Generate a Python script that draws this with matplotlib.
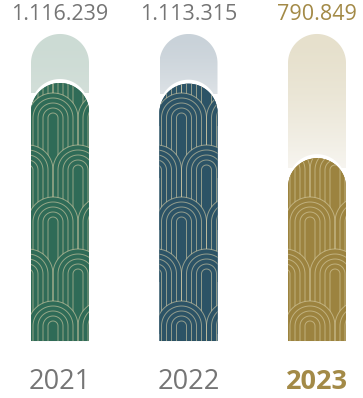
import numpy as np
import matplotlib
matplotlib.use("Agg")
import matplotlib.pyplot as plt
from matplotlib.patches import Polygon
from matplotlib.collections import LineCollection, PolyCollection
from matplotlib.colors import to_rgb
import matplotlib.transforms as mtransforms

# data
years = ["2021", "2022", "2023"]
values = [1116239, 1113315, 790849]
bar_colors = ["#2f6b57", "#2c5366", "#9c833f"]
bg_top_colors = ["#ccdbd4", "#c9d2d9", "#e6e0cc"]
bg_bottom_colors = ["#d3dfd9", "#dde2e6", "#f7f5f0"]
label_colors = ["#757575", "#757575", "#a38a47"]
bg_ratio = 1.19          # light background bar, relative to the max value
line_color = "#d9cfa8"

W, H = 363, 398
fig = plt.figure(figsize=(W / 100, H / 100), dpi=100)
ax = fig.add_axes([0, 0, 1, 1])
ax.axis("off")

vmax = max(values)
xlim = (-60 / 128.5, 2 + 46 / 128.5)
ylim = (-vmax * 0.2209, vmax * 1.3217)
ux = (xlim[1] - xlim[0]) / W     # data units per pixel
uy = (ylim[1] - ylim[0]) / H

bar_w = 58 * ux
rad_px = 29


def rounded_bar(cx, top, shift_px=0, n=60):
    """outline of a bar with a half-circle on top"""
    rx = bar_w / 2
    ry = rad_px * uy
    t = np.linspace(np.pi, 0, n)
    xs = cx + rx * np.cos(t)
    ys = top - ry + ry * np.sin(t) + shift_px * uy
    xs = np.concatenate([[cx - rx], xs, [cx + rx]])
    ys = np.concatenate([[0], ys, [0]])
    return np.column_stack([xs, ys])


def arch(cx, cy, r_px, drop_px=60, n=40):
    t = np.linspace(np.pi, 0, n)
    xs = cx + r_px * ux * np.cos(t)
    ys = cy + r_px * uy * np.sin(t)
    xs = np.concatenate([[cx - r_px * ux], xs, [cx + r_px * ux]])
    ys = np.concatenate([[cy - drop_px * uy], ys, [cy - drop_px * uy]])
    return np.column_stack([xs, ys])


for i, v in enumerate(values):
    bg_top = vmax * bg_ratio
    left = i - bar_w / 2

    # background bar with a soft gradient
    bg = Polygon(rounded_bar(i, bg_top), closed=True, facecolor="none",
                 edgecolor="none", zorder=1)
    ax.add_patch(bg)
    c0 = np.array(to_rgb(bg_top_colors[i]))
    c1 = np.array(to_rgb(bg_bottom_colors[i]))
    f = np.linspace(0, 1, 200) ** 1.6
    grad = (c0[None, :] * (1 - f[:, None]) + c1[None, :] * f[:, None])[:, None, :]
    im = ax.imshow(grad, extent=(i - bar_w / 2, i + bar_w / 2, v - 10 * uy, bg_top),
                   aspect="auto", origin="upper", zorder=1, interpolation="bilinear")
    im.set_clip_path(bg)

    # white halo on top of the value bar
    ax.add_patch(Polygon(rounded_bar(i, v, shift_px=4), closed=True,
                         facecolor="white", edgecolor="none", zorder=2))

    # value bar
    fg = Polygon(rounded_bar(i, v), closed=True, facecolor=bar_colors[i],
                 edgecolor="none", zorder=3)
    ax.add_patch(fg)

    # arch pattern, rows drawn top to bottom so lower arches cover upper lines
    n_rows = int((v / uy) // 52) + 2
    for k in range(n_rows - 1, -1, -1):
        cy = (15 + 52 * k) * uy
        z = 4 + 2 * (n_rows - k)
        fills, lines = [], []
        for j in range(-1, 3):
            cx = left + (22 + 25 * (k % 2) + 50 * j) * ux
            fills.append(arch(cx, cy, 25))
            for r in (5, 10, 15, 20, 25):
                lines.append(arch(cx, cy, r))
        pc = PolyCollection(fills, facecolors=bar_colors[i], edgecolors="none", zorder=z)
        ax.add_collection(pc)
        pc.set_clip_path(fg)
        lc = LineCollection(lines, colors=line_color, linewidths=0.7, alpha=0.6,
                            zorder=z + 1)
        ax.add_collection(lc)
        lc.set_clip_path(fg)

ax.set_xlim(*xlim)
ax.set_ylim(*ylim)

trans = mtransforms.blended_transform_factory(ax.transData, ax.transAxes)
for i, (yr, v) in enumerate(zip(years, values)):
    ax.text(i, 1 - 14.5 / H, f"{v:,}".replace(",", "."), transform=trans,
            ha="center", va="center", fontsize=15.5, family="Open Sans",
            color=label_colors[i])
    ax.text(i, 1 - 382 / H, yr, transform=trans, ha="center", va="center",
            fontsize=19.5, family="Open Sans", color=label_colors[i],
            fontweight="bold" if i == 2 else "normal")

fig.savefig("out.png", dpi=100)
